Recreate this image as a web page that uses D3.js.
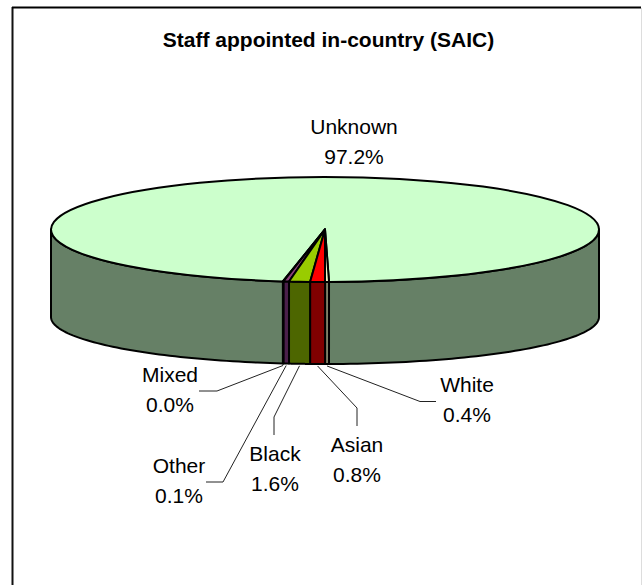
<html>
  <head>
    <script src="https://d3js.org/d3.v7.min.js"></script>
    <style>
      body { margin: 0; background: white; }
      text {
        font-family: "Liberation Sans", Arial, sans-serif;
        font-size: 21px;
        fill: black;
        text-anchor: middle;
      }
      .title { font-size: 21px; font-weight: bold; }
      .leader { fill: none; stroke: #222; stroke-width: 1; }
      .edge { stroke: black; stroke-width: 2; stroke-linejoin: round; }
    </style>
  </head>
  <body>
    <svg id="chart" width="642" height="585"></svg>
    <script>
      const categories = ["White", "Asian", "Black", "Other", "Mixed", "Unknown"];
      const percentLabels = ["0.4%", "0.8%", "1.6%", "0.1%", "0.0%", "97.2%"];
      // slice widths as measured on the picture, the old 3D renderer does not
      // draw the small slices in proportion to their printed percentages
      const drawnShare = [0.23, 0.87, 1.23, 0.33, 0.03, 97.31];
      const topColors = ["#FFFFCC", "#FF0000", "#99CC00", "#8B3F7B", "#660066", "#CCFFCC"];
      const sideColors = ["#808066", "#800000", "#4D6600", "#4A1F4A", "#330033", "#668066"];

      const svg = d3.select("svg#chart");

      // chart frame: no bottom edge, right edge is a faint grey
      svg.append("line").attr("x1", 12.5).attr("y1", 7).attr("x2", 12.5).attr("y2", 585)
        .attr("stroke", "#111").attr("stroke-width", 2);
      svg.append("line").attr("x1", 12).attr("y1", 7.5).attr("x2", 641).attr("y2", 7.5)
        .attr("stroke", "#000").attr("stroke-width", 2);
      svg.append("line").attr("x1", 641.5).attr("y1", 8).attr("x2", 641.5).attr("y2", 585)
        .attr("stroke", "#ddd").attr("stroke-width", 1);

      svg.append("text").attr("class", "title")
        .attr("x", 328.5).attr("y", 47)
        .text("Staff appointed in-country (SAIC)");

      const cx = 325, rx = 274;
      const topY = 229.5, topRy = 52.5;
      const baseY = 317, baseRy = 47;

      const toRad = Math.PI / 180;
      const pie = d3.pie().sort(null)
        .startAngle(179.16 * toRad)
        .endAngle((179.16 + 360) * toRad);
      const slices = pie(drawnShare).map((d, i) => ({...d, i}));

      const topPoint = a => [cx + rx * Math.sin(a), topY - topRy * Math.cos(a)];
      const basePoint = a => [cx + rx * Math.sin(a), baseY - baseRy * Math.cos(a)];

      // wall of one angular range, walking the top rim and back along the base rim
      function wallPath(a0, a1) {
        const angles = d3.range(0, 61).map(k => a0 + (a1 - a0) * k / 60);
        const pts = angles.map(topPoint).concat(angles.slice().reverse().map(basePoint));
        return d3.line()(pts) + "Z";
      }

      // only the front half of the cake shows a wall
      const walls = [];
      slices.forEach(s => {
        [0, 2].forEach(turn => {
          const a0 = Math.max(s.startAngle, Math.PI / 2 + turn * Math.PI);
          const a1 = Math.min(s.endAngle, 3 * Math.PI / 2 + turn * Math.PI);
          if (a1 > a0) walls.push({i: s.i, a0, a1});
        });
      });

      svg.append("g").selectAll("path")
        .data(walls)
        .join("path")
        .attr("class", "edge")
        .attr("d", d => wallPath(d.a0, d.a1))
        .attr("fill", d => sideColors[d.i]);

      const arcRadius = 100;
      const arc = d3.arc().innerRadius(0).outerRadius(arcRadius);

      svg.append("g")
        .attr("transform", `translate(${cx},${topY}) scale(${rx / arcRadius},${topRy / arcRadius})`)
        .selectAll("path")
        .data(slices.slice().reverse())
        .join("path")
        .attr("class", "edge")
        .attr("vector-effect", "non-scaling-stroke")
        .attr("d", arc)
        .attr("fill", d => topColors[d.i]);

      // label layout by category: text centre, first baseline, leader elbow and end
      const labelLayout = {
        White: {x: 467, y: 392, elbow: [420, 401.5], end: [436, 401.5]},
        Asian: {x: 357, y: 452, elbow: [357, 408], end: [357, 426]},
        Black: {x: 275, y: 461, elbow: [274, 417], end: [274, 435]},
        Other: {x: 179, y: 473, elbow: [223, 482], end: [206, 482]},
        Mixed: {x: 170, y: 382, elbow: [217, 391], end: [199, 391]},
        Unknown: {x: 354, y: 134}
      };

      slices.forEach(s => {
        const name = categories[s.i];
        const pos = labelLayout[name];
        if (pos.elbow) {
          const mid = (s.startAngle + s.endAngle) / 2;
          const start = basePoint(mid);
          svg.append("path").attr("class", "leader")
            .attr("d", d3.line()([[start[0], start[1] + 2], pos.elbow, pos.end]));
        }
        svg.append("text").attr("x", pos.x).attr("y", pos.y).text(name);
        svg.append("text").attr("x", pos.x).attr("y", pos.y + 30).text(percentLabels[s.i]);
      });
    </script>
  </body>
</html>
